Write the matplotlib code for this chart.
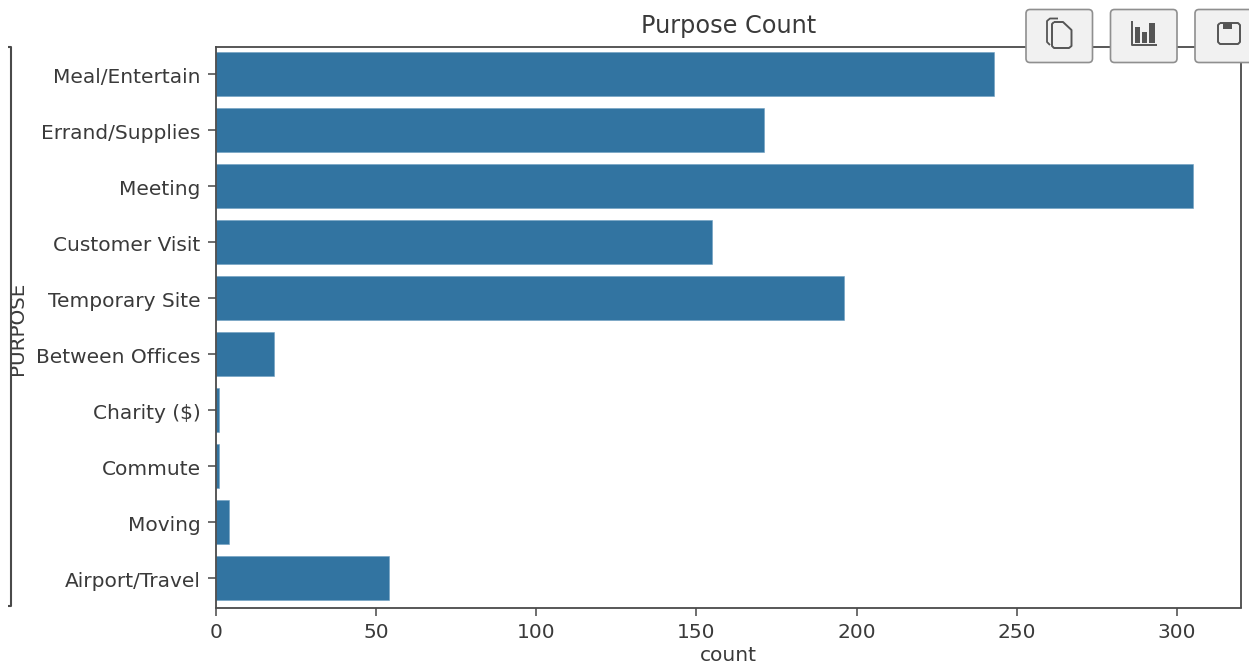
import matplotlib
matplotlib.use("Agg")
import matplotlib.pyplot as plt
from matplotlib.patches import FancyBboxPatch, Rectangle
from matplotlib.lines import Line2D
from matplotlib.transforms import ScaledTranslation

purposes = ["Meal/Entertain", "Errand/Supplies", "Meeting", "Customer Visit", "Temporary Site",
            "Between Offices", "Charity ($)", "Commute", "Moving", "Airport/Travel"]
counts = [243, 171, 305, 155, 196, 18, 1, 1, 4, 54]
x_ticks = [0, 50, 100, 150, 200, 250, 300]

W, H = 1249, 664
BLUE = "#3274a1"
TEXT = "#3a3a3a"

fig = plt.figure(figsize=(W / 100, H / 100), dpi=100)
L, R, T, B = 216, 1241, 46.5, 607.5
ax = fig.add_axes([L / W, 1 - B / H, (R - L) / W, (B - T) / H])
ax.barh(range(len(purposes)), counts, height=0.79, color=BLUE, edgecolor="#6d9fc2", linewidth=0.4)
ax.set_ylim(9.52, -0.487)
ax.set_xlim(0, 320)
ax.set_yticks(range(len(purposes)))
ax.set_yticklabels(purposes)
ax.set_xticks(x_ticks)
ax.tick_params(axis="both", labelsize=14.5, labelcolor=TEXT, length=6, width=1.2, color="#555555", pad=5)
shift = ScaledTranslation(0, -1.5 / 100, fig.dpi_scale_trans)
for lab in ax.get_yticklabels():
    lab.set_transform(lab.get_transform() + shift)
for s in ax.spines.values():
    s.set_linewidth(1.3)
    s.set_color("#4a4a4a")
ax.set_title("Purpose Count", fontsize=17.3, color=TEXT, pad=10)


def px(x, y):
    return x / W, 1 - y / H


fig.text(*px(18, 328), "PURPOSE", rotation=90, ha="center", va="center", fontsize=14.3, color=TEXT)
fig.text(*px(728, 661), "count", ha="center", va="baseline", fontsize=14.5, color=TEXT)


def line(xs, ys, lw=1.5, c="#4a4a4a", z=5):
    pts = [px(x, y) for x, y in zip(xs, ys)]
    fig.add_artist(Line2D([p[0] for p in pts], [p[1] for p in pts], transform=fig.transFigure,
                          color=c, lw=lw, solid_capstyle="butt", solid_joinstyle="round", zorder=z))


line([8, 10.5, 10.5, 8], [47, 47, 606, 606])

# toolbar buttons
for x0 in (1026, 1110.5, 1195):
    pad_x = 4
    fig.add_artist(FancyBboxPatch((x0 + pad_x, H - 62.5 + pad_x), 66.5 - 2 * pad_x, 53 - 2 * pad_x,
                                  boxstyle=f"round,pad={pad_x}", transform=None,
                                  facecolor="#f1f1f1", edgecolor="#8f8f8f", lw=1.2, zorder=10))

ICON = "#555555"
# copy icon
line([1058, 1050, 1047, 1047, 1050], [18.5, 18.5, 21, 42, 45], lw=1.3, c=ICON, z=11)
line([1054, 1063, 1071.5, 1071.5, 1069, 1054, 1052, 1052, 1054],
     [22, 22, 30, 46, 48, 48, 46, 24, 22], lw=1.4, c=ICON, z=11)
# chart icon
line([1132, 1132, 1156.5], [20.5, 44.5, 44.5], lw=1.4, c=ICON, z=11)
for bx, bw, by in ((1135, 4.5, 27), (1142, 5, 32), (1149, 6, 23)):
    fig.add_artist(Rectangle(px(bx, 42.5), bw / W, (42.5 - by) / H, transform=fig.transFigure,
                             facecolor=ICON, edgecolor="none", zorder=11))
# save icon
line([1220, 1238, 1240, 1240, 1238, 1220, 1218, 1218, 1220],
     [23, 23, 25, 42, 44, 44, 42, 25, 23], lw=1.4, c=ICON, z=11)
fig.add_artist(Rectangle(px(1223, 23), 9 / W, -6 / H, transform=fig.transFigure,
                         facecolor=ICON, edgecolor="none", zorder=11))

fig.savefig("out.png", dpi=100)
